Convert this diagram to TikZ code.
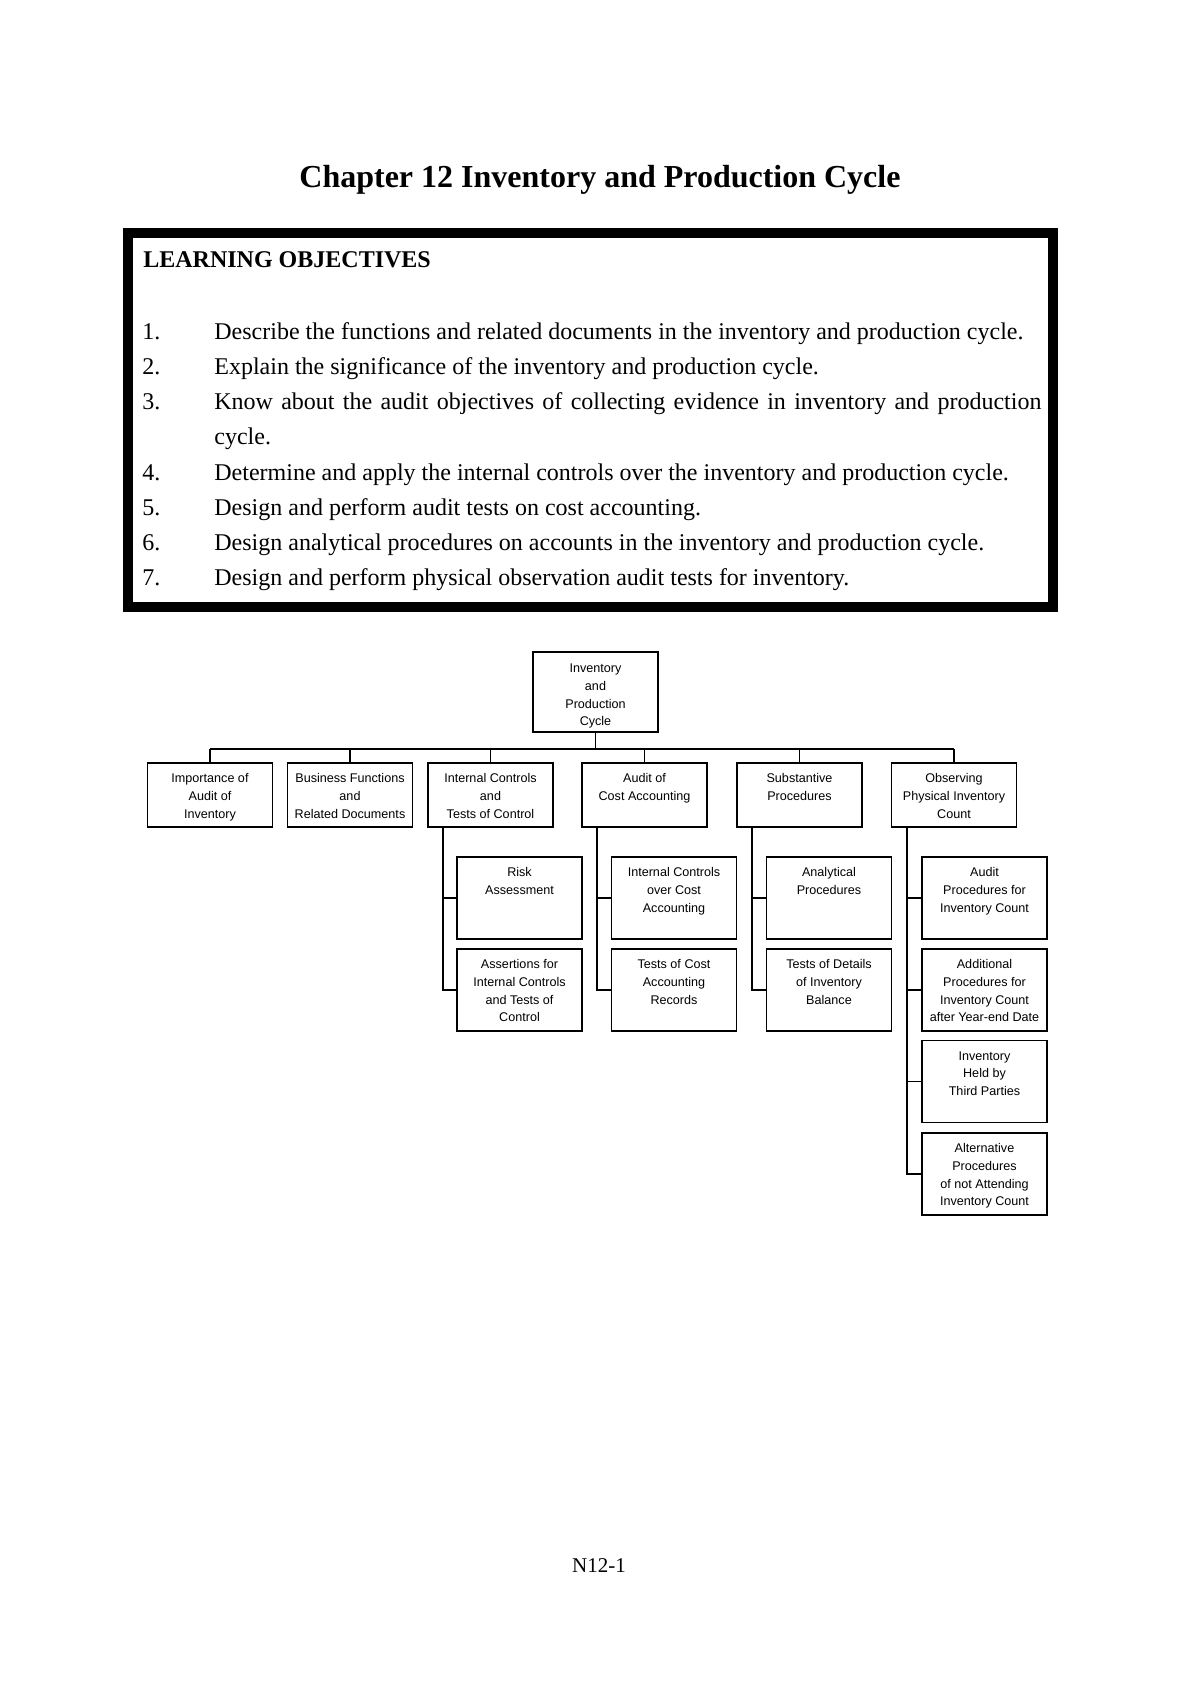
\documentclass[tikz,border=0pt]{standalone}
\usepackage{fontspec}
\setmainfont{Liberation Serif}
\newfontfamily\boxsans{Liberation Sans}
\newcommand\bstrut{\rule{0pt}{6pt}}
\tikzset{
  box/.style={draw, line width=0.9pt, minimum width=62.5pt, inner sep=0pt},
  btxt/.style={font={\boxsans\fontsize{6.3}{8.9}\selectfont}, align=center, inner sep=0pt, anchor=north},
  conn/.style={line width=0.9pt},
  num/.style={anchor=base west, inner sep=0pt, font=\fontsize{12}{14}\selectfont},
  obj/.style={anchor=base west, inner sep=0pt, font=\fontsize{12}{14}\selectfont},
}
\newcommand\rbox[5]{%
  \node[box, minimum height=#4] (#1) at (#2,#3) {};
  \node[btxt] (#1-t) at ([yshift=-4pt]#1.north) {\bstrut#5};}
\begin{document}
\begin{tikzpicture}[x=0.5pt,y=-0.5pt]
\useasboundingbox (0,0) rectangle (1200,1698);
% title
\node[anchor=base, inner sep=0pt, font=\bfseries\fontsize{16}{19}\selectfont] (title) at (600,187) {Chapter 12 Inventory and Production Cycle};
% learning objectives frame
\draw[line width=5pt] (128,233) rectangle (1053,607);
\node[anchor=base west, inner sep=0pt, font=\bfseries\fontsize{12}{14}\selectfont] (lohead) at (143,267) {LEARNING OBJECTIVES};
\node[num] (n1) at (142,339) {1.};
\node[obj] (o1) at (214,339) {Describe the functions and related documents in the inventory and production cycle.};
\node[num] (n2) at (142,374) {2.};
\node[obj] (o2) at (214,374) {Explain the significance of the inventory and production cycle.};
\node[num] (n3) at (142,409) {3.};
\node[obj] (o3) at (214,409) {\makebox[413.5pt][s]{Know about the audit objectives of collecting evidence in inventory and production}};
\node[obj] (o3b) at (214,444) {cycle.};
\node[num] (n4) at (142,480) {4.};
\node[obj] (o4) at (214,480) {Determine and apply the internal controls over the inventory and production cycle.};
\node[num] (n5) at (142,515) {5.};
\node[obj] (o5) at (214,515) {Design and perform audit tests on cost accounting.};
\node[num] (n6) at (142,550) {6.};
\node[obj] (o6) at (214,550) {Design analytical procedures on accounts in the inventory and production cycle.};
\node[num] (n7) at (142,585) {7.};
\node[obj] (o7) at (214,585) {Design and perform physical observation audit tests for inventory.};
% chart
\node[box, minimum height=40pt] (root) at (595.5,692) {};
\node[btxt] (root-t) at ([yshift=-4.5pt]root.north) {\bstrut Inventory\\and\\Production\\Cycle};
\rbox{b1}{210}{795}{32pt}{Importance of\\Audit of\\Inventory}
\rbox{b2}{350}{795}{32pt}{Business Functions\\and\\Related Documents}
\rbox{b3}{490.5}{795}{32pt}{Internal Controls\\and\\Tests of Control}
\rbox{b4}{644.5}{795}{32pt}{Audit of\\Cost Accounting}
\rbox{b5}{799.5}{795}{32pt}{Substantive\\Procedures}
\rbox{b6}{954}{795}{32pt}{Observing\\Physical Inventory\\Count}
\rbox{a1}{519.5}{898}{41pt}{Risk\\Assessment}
\rbox{a2}{519.5}{990}{41pt}{Assertions for\\Internal Controls\\and Tests of\\Control}
\rbox{c1}{674}{898}{41pt}{Internal Controls\\over Cost\\Accounting}
\rbox{c2}{674}{990}{41pt}{Tests of Cost\\Accounting\\Records}
\rbox{d1}{829}{898}{41pt}{Analytical\\Procedures}
\rbox{d2}{829}{990}{41pt}{Tests of Details\\of Inventory\\Balance}
\rbox{e1}{984.5}{898}{41pt}{Audit\\Procedures for\\Inventory Count}
\rbox{e2}{984.5}{990}{41pt}{Additional\\Procedures for\\Inventory Count\\after Year-end Date}
\rbox{e3}{984.5}{1081.5}{41pt}{Inventory\\Held by\\Third Parties}
\rbox{e4}{984.5}{1174}{41pt}{Alternative\\Procedures\\of not Attending\\Inventory Count}
% connectors
\coordinate (busy) at (0,749);
\draw[conn] (root.south) -- (root.south |- busy);
\draw[conn] (b1.north |- busy) -- (b6.north |- busy);
\foreach \i in {1,...,6} \draw[conn] (b\i.north) -- (b\i.north |- busy);
\coordinate (s3) at ([xshift=8pt]b3.south west);
\coordinate (s4) at ([xshift=8pt]b4.south west);
\coordinate (s5) at ([xshift=8pt]b5.south west);
\coordinate (s6) at ([xshift=8pt]b6.south west);
\draw[conn] (s3) |- (a2.west);
\draw[conn] (a1.west) -- (a1.west -| s3);
\draw[conn] (s4) |- (c2.west);
\draw[conn] (c1.west) -- (c1.west -| s4);
\draw[conn] (s5) |- (d2.west);
\draw[conn] (d1.west) -- (d1.west -| s5);
\draw[conn] (s6) |- (e4.west);
\foreach \j in {1,2,3} \draw[conn] (e\j.west) -- (e\j.west -| s6);
% footer
\node[anchor=base, inner sep=0pt, font=\fontsize{10.5}{12}\selectfont] (footer) at (599,1572) {N12-1};
\end{tikzpicture}
\end{document}
